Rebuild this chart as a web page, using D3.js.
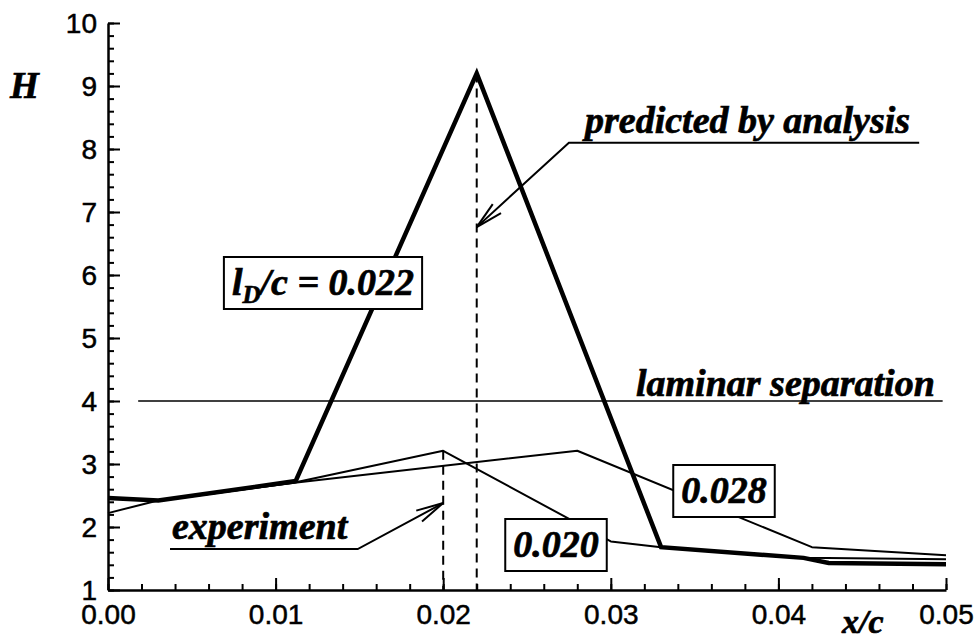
<!DOCTYPE html>
<html>
<head>
<meta charset="utf-8">
<script src="https://cdn.jsdelivr.net/npm/d3@7"></script>
<style>
  html, body { margin: 0; padding: 0; background: #fff; }
  svg { display: block; }
</style>
</head>
<body>
<svg id="chart" width="978" height="641"></svg>
<script>
// Shape factor H versus chordwise position x/c for three bubble lengths l_D/c
const xMajorTicks = [0, 0.01, 0.02, 0.03, 0.04, 0.05];
const xTickLabels = ["0.00", "0.01", "0.02", "0.03", "0.04", "0.05"];
const yMajorTicks = [1, 2, 3, 4, 5, 6, 7, 8, 9, 10];
const yTickLabels = ["1", "2", "3", "4", "5", "6", "7", "8", "9", "10"];

// l_D/c = 0.022 (heavy line)
const seriesX022 = [0, 0.003, 0.0112, 0.022, 0.033, 0.0415, 0.043, 0.05];
const seriesH022 = [2.46, 2.42, 2.73, 9.2, 1.68, 1.51, 1.43, 1.41];
// l_D/c = 0.020
const seriesX020 = [0, 0.0028, 0.011, 0.020, 0.030, 0.033, 0.0415, 0.05];
const seriesH020 = [2.22, 2.41, 2.70, 3.21, 1.77, 1.68, 1.51, 1.49];
// l_D/c = 0.028
const seriesX028 = [0, 0.003, 0.011, 0.028, 0.042, 0.05];
const seriesH028 = [2.46, 2.42, 2.70, 3.21, 1.68, 1.55];

// Laminar separation criterion
const laminarH = 4;
const laminarSpan = [0.0018, 0.0498];

// Markers for the transition locations (x/c, top H)
const predictedX = 0.022, predictedTopH = 9.2;
const experimentX = 0.020, experimentTopH = 3.21;

// Leader lines for the annotations: [x/c, H]
const predictedLeaderX = [0.0484, 0.0275, 0.0220];
const predictedLeaderH = [8.1, 8.1, 6.76];
const experimentLeaderX = [0.0037, 0.0149, 0.0200];
const experimentLeaderH = [1.65, 1.65, 2.38];

const SANS = "'Liberation Sans', Arial, Helvetica, sans-serif";
const SERIF = "'Liberation Serif', 'Times New Roman', 'DejaVu Serif', serif";

const svg = d3.select("#chart");
const x = d3.scaleLinear().domain([0, 0.05]).range([108, 946]);
const y = d3.scaleLinear().domain([1, 10]).range([590, 23]);

const zip = (xs, hs) => xs.map((v, i) => [v, hs[i]]);
const line = d3.line().x(d => x(d[0])).y(d => y(d[1]));

function annText(sel, size) {
  return sel.attr("font-family", SERIF).attr("font-style", "italic")
    .attr("font-weight", "bold").attr("font-size", size).attr("fill", "#000")
    .attr("stroke", "#000").attr("stroke-width", 0.7);
}

// Axes: minor ticks first, then major ticks with labels, ticks pointing inward
const xMinor = d3.range(0, 0.0501, 0.002);
const yMinor = d3.range(1, 10.01, 0.2);

const gx = svg.append("g").attr("transform", `translate(0,${y(1)})`);
gx.call(d3.axisBottom(x).tickValues(xMinor).tickSizeInner(-6).tickSizeOuter(0).tickFormat(""));
gx.select(".domain").remove();
const gxM = svg.append("g").attr("transform", `translate(0,${y(1)})`);
gxM.call(d3.axisBottom(x).tickValues(xMajorTicks).tickSizeInner(-12).tickSizeOuter(0)
  .tickFormat((d, i) => xTickLabels[i]).tickPadding(20));

const gy = svg.append("g").attr("transform", `translate(${x(0)},0)`);
gy.call(d3.axisLeft(y).tickValues(yMinor).tickSizeInner(-6).tickSizeOuter(0).tickFormat(""));
gy.select(".domain").remove();
const gyM = svg.append("g").attr("transform", `translate(${x(0)},0)`);
gyM.call(d3.axisLeft(y).tickValues(yMajorTicks).tickSizeInner(-12).tickSizeOuter(0)
  .tickFormat((d, i) => yTickLabels[i]).tickPadding(11));

[gx, gxM, gy, gyM].forEach(g => g.attr("font-family", SANS).attr("font-size", 28));
svg.selectAll(".tick line").attr("stroke", "#000").attr("stroke-width", 2);
svg.selectAll(".domain").attr("stroke", "#000").attr("stroke-width", 2.5);
svg.selectAll(".tick text").attr("fill", "#000").attr("stroke", "#000").attr("stroke-width", 0.5);
gxM.selectAll(".tick text").attr("dy", null).attr("y", 34);
gyM.selectAll(".tick text").attr("dy", "0.34em");

// Axis titles
annText(svg.append("text"), 37).attr("x", 10).attr("y", 98).text("H");
annText(svg.append("text"), 34).attr("x", 842).attr("y", 633).text("x/c");

// Laminar separation reference line
svg.append("line")
  .attr("x1", x(laminarSpan[0])).attr("x2", x(laminarSpan[1]))
  .attr("y1", y(laminarH)).attr("y2", y(laminarH))
  .attr("stroke", "#000").attr("stroke-width", 1.6);

// Dashed vertical markers
[[predictedX, predictedTopH], [experimentX, experimentTopH]].forEach(([xv, hv]) => {
  svg.append("line")
    .attr("x1", x(xv)).attr("x2", x(xv))
    .attr("y1", y(hv)).attr("y2", y(1))
    .attr("stroke", "#000").attr("stroke-width", 2)
    .attr("stroke-dasharray", "9,6");
});

// Curves
svg.append("path").datum(zip(seriesX028, seriesH028)).attr("d", line)
  .attr("fill", "none").attr("stroke", "#000").attr("stroke-width", 2).attr("stroke-linejoin", "round");
svg.append("path").datum(zip(seriesX020, seriesH020)).attr("d", line)
  .attr("fill", "none").attr("stroke", "#000").attr("stroke-width", 2).attr("stroke-linejoin", "round");
svg.append("path").datum(zip(seriesX022, seriesH022)).attr("d", line)
  .attr("fill", "none").attr("stroke", "#000").attr("stroke-width", 4.5).attr("stroke-linejoin", "miter");

// Leader line with an open arrow head at its last point
function leader(xs, hs) {
  const pts = zip(xs, hs);
  svg.append("path").datum(pts).attr("d", line)
    .attr("fill", "none").attr("stroke", "#000").attr("stroke-width", 2);
  const a = pts[pts.length - 2], b = pts[pts.length - 1];
  const tx = x(b[0]), ty = y(b[1]);
  const ang = Math.atan2(y(a[1]) - ty, x(a[0]) - tx);
  const len = 28, spread = 0.22;
  [ang - spread, ang + spread].forEach(t => {
    svg.append("line")
      .attr("x1", tx).attr("y1", ty)
      .attr("x2", tx + len * Math.cos(t)).attr("y2", ty + len * Math.sin(t))
      .attr("stroke", "#000").attr("stroke-width", 2);
  });
}
leader(predictedLeaderX, predictedLeaderH);
leader(experimentLeaderX, experimentLeaderH);

// Annotation texts
annText(svg.append("text"), 38).attr("x", 585).attr("y", 133).text("predicted by analysis");
annText(svg.append("text"), 38).attr("x", 636).attr("y", 396).text("laminar separation");
annText(svg.append("text"), 38).attr("x", 172).attr("y", 539).text("experiment");

// Boxed curve labels
function boxedLabel(cx, cy, build) {
  const g = svg.append("g");
  const rect = g.append("rect");
  const t = annText(g.append("text"), 38)
    .attr("text-anchor", "middle").attr("x", cx).attr("y", cy + 12);
  build(t);
  const bb = t.node().getBBox();
  rect.attr("x", bb.x - 8).attr("y", cy - 26)
    .attr("width", bb.width + 16).attr("height", 52)
    .attr("fill", "#fff").attr("stroke", "#000").attr("stroke-width", 2);
}
boxedLabel(323, 283, t => {
  t.append("tspan").text("l");
  t.append("tspan").attr("font-size", 25).attr("dy", 8).text("D");
  t.append("tspan").attr("dy", -8).text("/c = 0.022");
});
boxedLabel(724, 491, t => t.text("0.028"));
boxedLabel(556, 545, t => t.text("0.020"));
</script>
</body>
</html>
